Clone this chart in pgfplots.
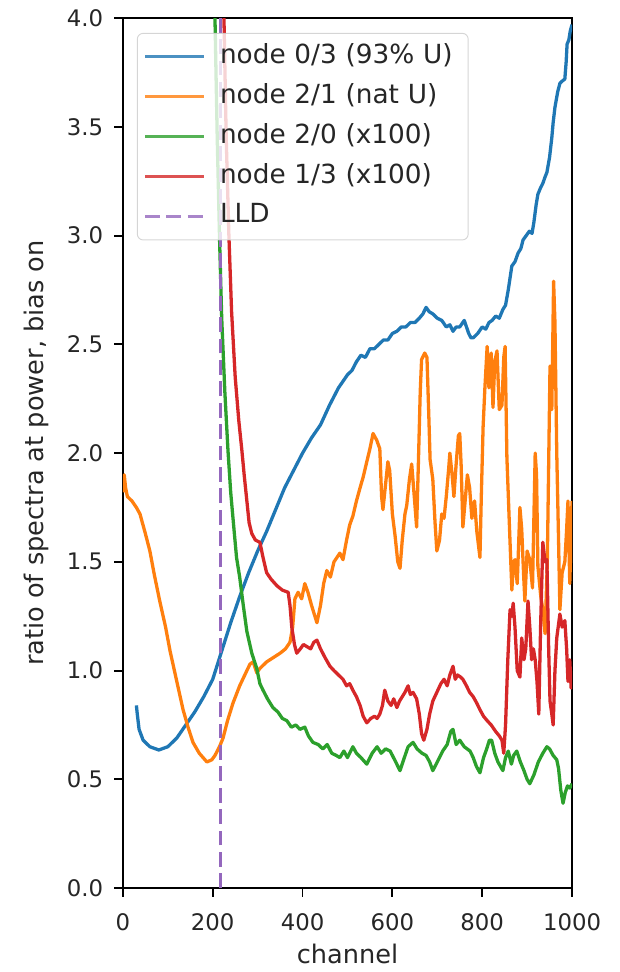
\documentclass[border=0pt]{standalone}
\usepackage{fontspec}
\setmainfont{DejaVu Sans}
\usepackage{pgfplots}
\pgfplotsset{compat=1.18}
\definecolor{cA}{HTML}{1F77B4}
\definecolor{cB}{HTML}{FF7F0E}
\definecolor{cC}{HTML}{2CA02C}
\definecolor{cD}{HTML}{D62728}
\definecolor{cE}{HTML}{9467BD}
\begin{document}
\begin{tikzpicture}
\begin{axis}[name=ax, scale only axis, width=191.1pt, height=370.2pt,
  xmin=0, xmax=1000, ymin=0, ymax=4,
  xtick={0,200,400,600,800,1000}, ytick={0,0.5,1,1.5,2,2.5,3,3.5,4},
  /pgf/number format/1000 sep={},
  /pgf/number format/assume math mode=true,
  yticklabel style={/pgf/number format/fixed, /pgf/number format/fixed zerofill, /pgf/number format/precision=1},
  tick align=outside, xtick pos=left, ytick pos=left,
  major tick length=3.6pt,
  tick style={black, line width=0.8pt},
  axis line style={line width=0.8pt},
  tick label style={font=\fontsize{9.7}{11}\selectfont, text=black!85},
  xticklabel style={yshift=-3.5pt},
  yticklabel style={xshift=-1.3pt},
  label style={font=\fontsize{10.9}{12}\selectfont, text=black!85},
  xlabel={channel},
  xlabel style={at={(axis description cs:0.5,0)}, anchor=center, yshift=-28pt},
  ylabel={ratio of spectra at power, bias on},
  ylabel style={at={(axis description cs:-0.1915,0.5)}, anchor=center},
  legend cell align=left,
  legend image code/.code={\draw[#1] (0pt,0pt) -- (25pt,0pt);},
  legend style={at={(0.031,0.983)}, anchor=north west,
    font=\fontsize{11.2}{13}\selectfont, text=black!85,
    fill=white, fill opacity=0.8, draw=black!20, draw opacity=0.8, text opacity=1,
    rounded corners=2.5pt, inner xsep=2.6pt, inner ysep=4.7pt,
    row sep=6.5pt,
    nodes={inner sep=0pt, text height=8pt, text depth=2.5pt, text width=103pt},
    /tikz/every odd column/.append style={column sep=6.2pt}},
  every axis plot/.append style={line width=1.4pt, line join=round},
]
\addplot[cA] coordinates {
(30,0.84) (32,0.80) (36,0.73) (45,0.68) (60,0.65) (80,0.635) (100,0.65) (120,0.69)
(140,0.75) (160,0.81) (180,0.88) (200,0.96) (220,1.09) (240,1.22) (260,1.34) (280,1.45)
(300,1.55) (320,1.64) (340,1.74) (360,1.84) (380,1.92) (400,2.00) (420,2.07) (440,2.13)
(460,2.22) (480,2.30) (500,2.36) (510,2.38) (520,2.42) (530,2.45) (540,2.44) (550,2.48)
(560,2.48) (570,2.50) (580,2.52) (590,2.52) (600,2.55) (610,2.56) (620,2.58) (630,2.58)
(640,2.60) (650,2.60) (660,2.62) (668,2.64) (675,2.67) (682,2.65) (690,2.64) (700,2.62)
(710,2.61) (720,2.58) (728,2.59) (735,2.56) (742,2.58) (750,2.58) (760,2.61) (765,2.58)
(770,2.55) (775,2.53) (780,2.53) (790,2.55) (800,2.58) (808,2.57) (815,2.60) (822,2.61)
(830,2.63) (838,2.62) (846,2.66) (852,2.68) (858,2.75) (866,2.86) (873,2.88) (880,2.92)
(886,2.94) (891,2.98) (898,3.00) (905,3.02) (911,3.01) (915,3.06) (920,3.14) (924,3.19)
(930,3.22) (935,3.24) (940,3.27) (944,3.29) (950,3.36) (955,3.45) (958,3.52) (962,3.59)
(968,3.66) (973,3.70) (978,3.71) (984,3.72) (987,3.80) (989,3.88) (993,3.90) (996,3.94) (1000,3.97)
};
\addlegendentry{node 0/3 (93\% U)}
\addplot[cB] coordinates {
(0,1.82) (3,1.90) (6,1.84) (10,1.80) (20,1.78) (30,1.75) (38,1.72) (50,1.63) (60,1.55)
(70,1.44) (82,1.32) (95,1.20) (105,1.09) (120,0.95) (134,0.82) (145,0.74) (156,0.67)
(170,0.62) (187,0.58) (198,0.59) (205,0.61) (215,0.65) (223,0.69) (233,0.77) (245,0.85)
(260,0.93) (276,1.00) (283,1.03) (290,1.04) (298,0.99) (305,1.01) (320,1.04) (335,1.06)
(350,1.08) (362,1.10) (372,1.13) (378,1.20) (383,1.33) (390,1.36) (398,1.33) (405,1.40)
(412,1.36) (420,1.30) (432,1.22) (440,1.30) (447,1.40) (454,1.46) (462,1.43) (470,1.50)
(483,1.54) (490,1.51) (498,1.60) (505,1.67) (512,1.71) (520,1.78) (528,1.84) (535,1.89)
(543,1.96) (550,2.02) (557,2.09) (565,2.06) (572,2.02) (576,1.80) (579,1.74) (585,1.86)
(590,1.96) (594,1.92) (600,1.72) (606,1.62) (612,1.50) (617,1.47) (622,1.60) (628,1.72)
(632,1.76) (638,1.88) (643,1.95) (648,1.82) (654,1.66) (658,1.96) (662,2.28) (665,2.43)
(672,2.46) (677,2.44) (681,2.18) (684,1.97) (690,1.88) (695,1.68) (699,1.55) (705,1.60)
(710,1.72) (715,1.70) (720,1.80) (725,1.92) (728,2.00) (733,1.90) (737,1.80) (742,1.95)
(747,2.08) (750,2.09) (753,1.95) (757,1.66) (762,1.78) (767,1.90) (772,1.84) (777,1.70)
(783,1.78) (788,1.64) (795,1.52) (798,1.80) (802,2.12) (806,2.30) (811,2.49) (815,2.30)
(820,2.46) (824,2.21) (828,2.42) (833,2.47) (838,2.20) (844,2.22) (848,2.44) (851,2.49)
(855,1.98) (860,1.70) (866,1.37) (870,1.50) (873,1.51) (878,1.40) (884,1.75) (888,1.65)
(892,1.45) (895,1.32) (900,1.55) (906,1.51) (912,1.38) (918,2.00) (921,1.90) (924,1.48)
(930,1.35) (935,1.28) (940,1.17) (945,1.50) (948,1.95) (951,2.40) (955,2.20) (959,2.79)
(962,2.60) (966,2.00) (970,1.60) (973,1.28) (978,1.45) (984,1.50) (988,1.65) (991,1.78)
(995,1.40) (998,1.62) (1000,1.78)
};
\addlegendentry{node 2/1 (nat U)}
\addplot[cC] coordinates {
(200,5.0) (205,4.0) (210,3.45) (215,3.0) (220,2.62) (227,2.28) (234,2.01) (240,1.82)
(246,1.68) (253,1.52) (260,1.43) (268,1.30) (276,1.18) (287,1.08) (298,1.01) (305,0.94)
(312,0.91) (322,0.87) (334,0.83) (345,0.81) (355,0.78) (365,0.77) (375,0.74) (385,0.75)
(394,0.73) (405,0.74) (413,0.70) (423,0.67) (435,0.66) (445,0.64) (455,0.66) (465,0.62)
(475,0.61) (483,0.60) (492,0.63) (500,0.60) (512,0.65) (520,0.62) (530,0.60) (543,0.57)
(555,0.62) (566,0.65) (575,0.62) (585,0.64) (595,0.63) (605,0.59) (617,0.54) (625,0.59)
(635,0.65) (646,0.67) (655,0.64) (666,0.62) (675,0.61) (683,0.58) (690,0.54) (700,0.58)
(712,0.63) (722,0.66) (730,0.72) (735,0.73) (742,0.66) (750,0.68) (760,0.65) (773,0.63)
(780,0.60) (787,0.56) (795,0.53) (803,0.60) (810,0.64) (816,0.68) (821,0.68) (828,0.62)
(835,0.58) (846,0.54) (852,0.60) (858,0.63) (865,0.57) (870,0.61) (877,0.63) (885,0.58)
(893,0.54) (900,0.50) (906,0.48) (915,0.52) (925,0.58) (935,0.62) (944,0.65) (950,0.64)
(958,0.61) (966,0.59) (970,0.55) (975,0.45) (980,0.39) (985,0.44) (990,0.47) (995,0.46) (1000,0.48)
};
\addlegendentry{node 2/0 (x100)}
\addplot[cD] coordinates {
(218,5.0) (225,4.0) (230,3.45) (236,3.0) (242,2.65) (250,2.35) (258,2.15) (265,2.01)
(270,1.90) (276,1.78) (281,1.68) (287,1.63) (295,1.60) (305,1.59) (312,1.52) (320,1.45)
(330,1.42) (343,1.39) (355,1.37) (368,1.36) (372,1.30) (376,1.20) (382,1.12) (387,1.08)
(395,1.10) (402,1.12) (410,1.11) (418,1.10) (425,1.13) (432,1.14) (440,1.10) (450,1.06)
(461,1.02) (470,1.00) (480,0.98) (490,0.96) (498,0.93) (505,0.94) (512,0.91) (520,0.88)
(528,0.84) (535,0.79) (543,0.76) (552,0.78) (560,0.79) (566,0.78) (572,0.80) (578,0.84)
(583,0.91) (590,0.86) (597,0.84) (603,0.87) (610,0.83) (616,0.86) (622,0.88) (628,0.90)
(635,0.93) (640,0.89) (646,0.90) (654,0.87) (660,0.80) (665,0.71) (670,0.68) (677,0.73)
(683,0.80) (690,0.86) (699,0.90) (708,0.94) (715,0.96) (722,0.93) (728,0.98) (735,1.02)
(740,0.96) (745,0.98) (752,0.97) (757,0.96) (765,0.93) (772,0.90) (780,0.88) (788,0.85)
(795,0.82) (803,0.79) (811,0.77) (820,0.75) (830,0.72) (838,0.70) (844,0.68) (848,0.62)
(852,0.75) (857,1.05) (862,1.28) (866,1.25) (869,1.31) (873,1.20) (878,1.00) (884,0.97)
(888,1.15) (893,1.05) (897,1.10) (902,1.32) (906,1.20) (910,1.05) (914,1.10) (918,1.05)
(922,0.95) (926,0.80) (930,1.20) (935,1.59) (940,1.50) (944,1.51) (948,1.10) (951,0.86)
(955,0.80) (958,0.75) (962,1.00) (966,1.15) (973,1.26) (978,1.20) (984,1.23) (988,1.10)
(991,0.95) (995,1.05) (998,0.92) (1000,1.00)
};
\addlegendentry{node 1/3 (x100)}
\addplot[cE, dash pattern=on 6.3pt off 2.8pt] coordinates {(218,0) (218,4)};
\addlegendentry{LLD}
\end{axis}
\pgfresetboundingbox
\path[use as bounding box] ([xshift=-52.3pt,yshift=-35.7pt]ax.south west) rectangle ([xshift=20pt,yshift=7.7pt]ax.north east);
\end{tikzpicture}
\end{document}
